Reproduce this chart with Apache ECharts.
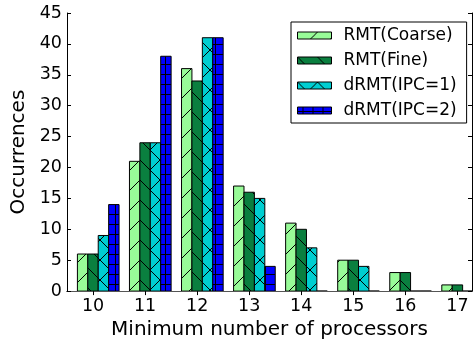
<!DOCTYPE html>
<html><head><meta charset="utf-8">
<script src="https://cdn.jsdelivr.net/npm/echarts@6/dist/echarts.min.js"></script>
<style>html,body{margin:0;padding:0;background:#fff}#c{width:474px;height:345px}</style>
</head><body><div id="c"></div>
<script>
const categories = [10, 11, 12, 13, 14, 15, 16, 17];
const seriesNames = ['RMT(Coarse)', 'RMT(Fine)', 'dRMT(IPC=1)', 'dRMT(IPC=2)'];
const rmtCoarse = [6, 21, 36, 17, 11, 5, 3, 1];
const rmtFine = [6, 24, 34, 16, 10, 5, 3, 1];
const drmtIpc1 = [9, 24, 41, 15, 7, 4, 0, 0];
const drmtIpc2 = [14, 38, 41, 4, 0, 0, 0, 0];
const yTicks = [0, 5, 10, 15, 20, 25, 30, 35, 40, 45];

const FONT = 'DejaVu Sans';
function makePattern(bg, type) {
  const s = type === '+' ? 10 : 20;
  const c = document.createElement('canvas');
  c.width = s; c.height = s;
  const g = c.getContext('2d');
  g.fillStyle = bg; g.fillRect(0, 0, s, s);
  g.strokeStyle = '#000'; g.lineWidth = 1;
  g.beginPath();
  if (type === '/' || type === 'x') {
    g.moveTo(-2, s + 2); g.lineTo(s + 2, -2);
    g.moveTo(-2, 2); g.lineTo(2, -2);
    g.moveTo(s - 2, s + 2); g.lineTo(s + 2, s - 2);
  }
  if (type === '\\' || type === 'x') {
    g.moveTo(-2, -2); g.lineTo(s + 2, s + 2);
    g.moveTo(s - 2, -2); g.lineTo(s + 2, 2);
    g.moveTo(-2, s - 2); g.lineTo(2, s + 2);
  }
  if (type === '+') {
    g.moveTo(0, 4.5); g.lineTo(s, 4.5);
    g.moveTo(5.5, 0); g.lineTo(5.5, s);
  }
  g.stroke();
  return { image: c, repeat: 'repeat' };
}
const fills = [
  makePattern('#98fb98', '/'),
  makePattern('#0a7f3f', '\\'),
  makePattern('#00ced1', 'x'),
  makePattern('#0000ff', '+')
];
const allData = [rmtCoarse, rmtFine, drmtIpc1, drmtIpc2];
const BAR_W = 0.2, GROUP_OFF = -0.3;

const series = allData.map((vals, si) => ({
  type: 'custom',
  name: seriesNames[si],
  clip: true,
  itemStyle: { color: fills[si], borderColor: '#000', borderWidth: 1 },
  data: categories.map((c, i) => [c, vals[i]]),
  renderItem: function (params, api) {
    const x = api.value(0), y = api.value(1);
    const left = x + GROUP_OFF + params.seriesIndex * BAR_W;
    const p0 = api.coord([left, y]);
    const p1 = api.coord([left + BAR_W, 0]);
    return {
      type: 'rect',
      shape: { x: p0[0], y: p0[1], width: p1[0] - p0[0], height: p1[1] - p0[1] },
      style: { fill: fills[params.seriesIndex], stroke: '#000', lineWidth: 1 }
    };
  }
}));

const chart = echarts.init(document.getElementById('c'), null, { renderer: 'canvas' });
const axisLine = { show: true, lineStyle: { color: '#000', width: 1 } };
chart.setOption({
  animation: false,
  backgroundColor: '#fff',
  textStyle: { fontFamily: FONT },
  grid: { left: 67, right: 2, top: 13, bottom: 50, containLabel: false },
  legend: {
    orient: 'vertical', left: 291, top: 22,
    backgroundColor: '#fff', borderColor: '#000', borderWidth: 1, borderRadius: 0,
    padding: [5, 10, 4, 6], itemGap: 8, itemWidth: 34, itemHeight: 7,
    icon: 'rect', selectedMode: false,
    textStyle: { fontFamily: FONT, fontSize: 17, color: '#000', padding: [0, 0, 0, 7], lineHeight: 17 },
    data: seriesNames.map((n, i) => ({ name: n, itemStyle: { color: fills[i], borderColor: '#000', borderWidth: 1 } }))
  },
  xAxis: [{
    type: 'value', position: 'bottom', min: 9.5, max: 17.28,
    name: 'Minimum number of processors', nameLocation: 'middle', nameGap: 24,
    nameTextStyle: { fontFamily: FONT, fontSize: 20, color: '#000' },
    axisLine: axisLine,
    axisTick: { show: true, inside: true, length: 4, customValues: categories, lineStyle: { color: '#000' } },
    axisLabel: { customValues: categories, fontFamily: FONT, fontSize: 17.5, color: '#000', margin: 6 },
    splitLine: { show: false }
  }, {
    type: 'value', position: 'top', min: 9.5, max: 17.28,
    axisLine: { show: true, lineStyle: { color: '#555', width: 1 } },
    axisTick: { show: true, inside: true, length: 4, customValues: categories, lineStyle: { color: '#000' } },
    axisLabel: { show: false }, splitLine: { show: false }
  }],
  yAxis: [{
    type: 'value', position: 'left', min: 0, max: 45, interval: 5,
    name: 'Occurrences', nameLocation: 'middle', nameGap: 34,
    nameTextStyle: { fontFamily: FONT, fontSize: 20, color: '#000' },
    axisLine: axisLine,
    axisTick: { show: true, inside: true, length: 4, customValues: yTicks, lineStyle: { color: '#000' } },
    axisLabel: { customValues: yTicks, fontFamily: FONT, fontSize: 17.5, color: '#000', margin: 5 },
    splitLine: { show: false }
  }, {
    type: 'value', position: 'right', min: 0, max: 45, interval: 5,
    axisLine: axisLine,
    axisTick: { show: true, inside: true, length: 4, customValues: yTicks, lineStyle: { color: '#000' } },
    axisLabel: { show: false }, splitLine: { show: false }
  }],
  series: series
});
</script></body></html>
